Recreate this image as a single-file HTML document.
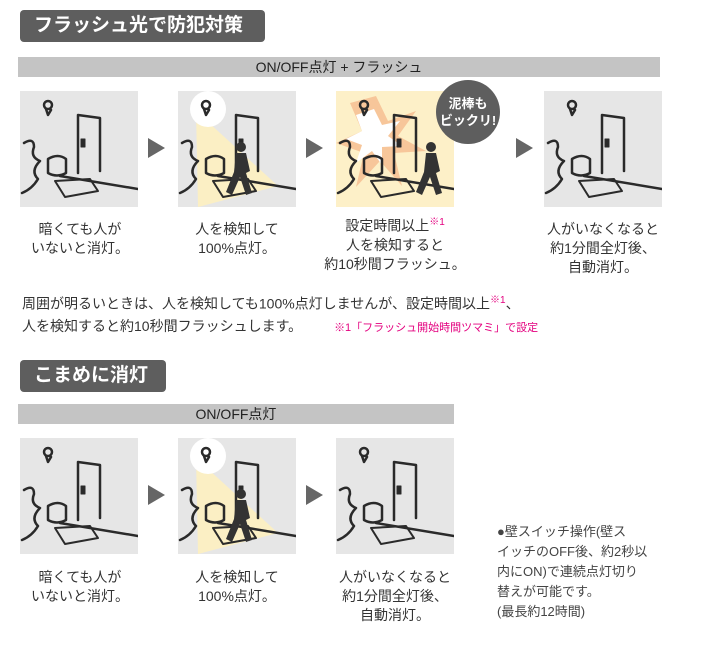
<!DOCTYPE html>
<html><head><meta charset="utf-8">
<style>
body{margin:0;width:717px;height:655px;background:#fff;position:relative;overflow:hidden;font-family:"Liberation Sans","Noto Sans CJK JP",sans-serif;color:#333}
.a{position:absolute}
.title{background:#5e5e5e;color:#fff;border-radius:4px;font-weight:bold;font-size:19px;line-height:32px;padding-left:14px;box-sizing:border-box;white-space:nowrap}
.bar{background:#c4c4c4;font-size:14px;line-height:20px;text-align:center;color:#222}
.cap{font-size:14px;line-height:19px;text-align:center;width:160px}
.pink{color:#e4007f}
svg.p{position:absolute;width:118px;height:116px}
.arr{width:0;height:0;border-top:10px solid transparent;border-bottom:10px solid transparent;border-left:17px solid #666}
</style></head><body>
<svg width="0" height="0" style="position:absolute">
<defs>
<g id="scene" fill="none" stroke="#2a2a2a" stroke-width="2.5" stroke-linecap="round" stroke-linejoin="round">
<path d="M58 82 V24 L80 27 V80"/>
<rect x="61" y="48" width="4" height="8" fill="#2a2a2a" stroke-width="1"/>
<path d="M40 85 L118 98"/>
<path d="M35 90 L70 88 L78 100 L45 106 Z" stroke-width="2"/>
<path d="M28 68 q10-6 18 0 v14 q-9 5-18 0 Z"/>
<path d="M4 52 q10-6 10 4 q-4 10 6 14 q-10 10 -2 18 q-6 10 -16 14"/>
<circle cx="28" cy="14" r="4"/>
<path d="M26 18 l2 6 l3-5"/>
</g>
<g id="man" fill="#333"><circle cx="63" cy="56" r="5"/><path d="M58 62 h10 l4 18 l-4 2 l6 20 l-6 2 l-6-18 l-8 18 l-6-3 l8-20 z"/></g>
</defs></svg>

<div class="a title" style="left:20px;top:10px;width:245px;height:32px">フラッシュ光で防犯対策</div>
<div class="a bar" style="left:18px;top:57px;width:642px;height:20px">ON/OFF点灯 + フラッシュ</div>

<svg class="p" style="left:20px;top:91px"><rect width="118" height="116" fill="#e6e6e6"/><use href="#scene"/></svg>
<div class="a arr" style="left:148px;top:138px"></div>
<svg class="p" style="left:178px;top:91px"><rect width="118" height="116" fill="#e6e6e6"/><path d="M18 20 L100 95 L20 116 Z" fill="#fbefc4"/><circle cx="30" cy="18" r="18" fill="#fff"/><use href="#scene"/><use href="#man"/></svg>
<div class="a arr" style="left:306px;top:138px"></div>
<svg class="p" style="left:336px;top:91px"><rect width="118" height="116" fill="#fdf0c8"/><polygon points="40,5 52,30 80,20 62,45 90,60 58,62 66,95 44,70 20,96 28,62 0,52 26,40 14,12" fill="#f7c69a"/><polygon points="38,18 46,34 64,30 52,45 66,55 46,56 46,74 36,60 20,72 26,54 10,48 26,40 20,24" fill="#fff"/><use href="#scene"/><g transform="translate(32,0)"><use href="#man"/></g></svg>
<div class="a" style="left:436px;top:80px;width:64px;height:64px;border-radius:50%;background:#5e5e5e;color:#fff;font-weight:bold;font-size:13px;line-height:17px;text-align:center;padding-top:15px;box-sizing:border-box;white-space:nowrap">泥棒も<br>ビックリ!</div>
<div class="a arr" style="left:516px;top:138px"></div>
<svg class="p" style="left:544px;top:91px"><rect width="118" height="116" fill="#e6e6e6"/><use href="#scene"/></svg>

<div class="a cap" style="left:0px;top:220px">暗くても人が<br>いないと消灯。</div>
<div class="a cap" style="left:157px;top:220px">人を検知して<br>100%点灯。</div>
<div class="a cap" style="left:315px;top:213px">設定時間以上<sup class="pink" style="font-size:10px">※1</sup><br>人を検知すると<br>約10秒間フラッシュ。</div>
<div class="a cap" style="left:523px;top:220px">人がいなくなると<br>約1分間全灯後、<br>自動消灯。</div>

<div class="a" style="left:22px;top:290px;font-size:14px;line-height:22px;white-space:nowrap">周囲が明るいときは、人を検知しても100%点灯しませんが、設定時間以上<sup class="pink" style="font-size:10px">※1</sup>、<br>人を検知すると約10秒間フラッシュします。 <span class="pink" style="font-size:11px;margin-left:28px">※1「フラッシュ開始時間ツマミ」で設定</span></div>

<div class="a title" style="left:20px;top:360px;width:146px;height:32px">こまめに消灯</div>
<div class="a bar" style="left:18px;top:404px;width:436px;height:20px">ON/OFF点灯</div>

<svg class="p" style="left:20px;top:438px"><rect width="118" height="116" fill="#e6e6e6"/><use href="#scene"/></svg>
<div class="a arr" style="left:148px;top:485px"></div>
<svg class="p" style="left:178px;top:438px"><rect width="118" height="116" fill="#e6e6e6"/><path d="M18 20 L100 95 L20 116 Z" fill="#fbefc4"/><circle cx="30" cy="18" r="18" fill="#fff"/><use href="#scene"/><use href="#man"/></svg>
<div class="a arr" style="left:306px;top:485px"></div>
<svg class="p" style="left:336px;top:438px"><rect width="118" height="116" fill="#e6e6e6"/><use href="#scene"/></svg>

<div class="a cap" style="left:0px;top:568px">暗くても人が<br>いないと消灯。</div>
<div class="a cap" style="left:157px;top:568px">人を検知して<br>100%点灯。</div>
<div class="a cap" style="left:315px;top:568px">人がいなくなると<br>約1分間全灯後、<br>自動消灯。</div>

<div class="a" style="left:497px;top:522px;font-size:13px;line-height:20px;color:#444;white-space:nowrap">●壁スイッチ操作(壁ス<br>イッチのOFF後、約2秒以<br>内にON)で連続点灯切り<br>替えが可能です。<br>(最長約12時間)</div>
</body></html>
